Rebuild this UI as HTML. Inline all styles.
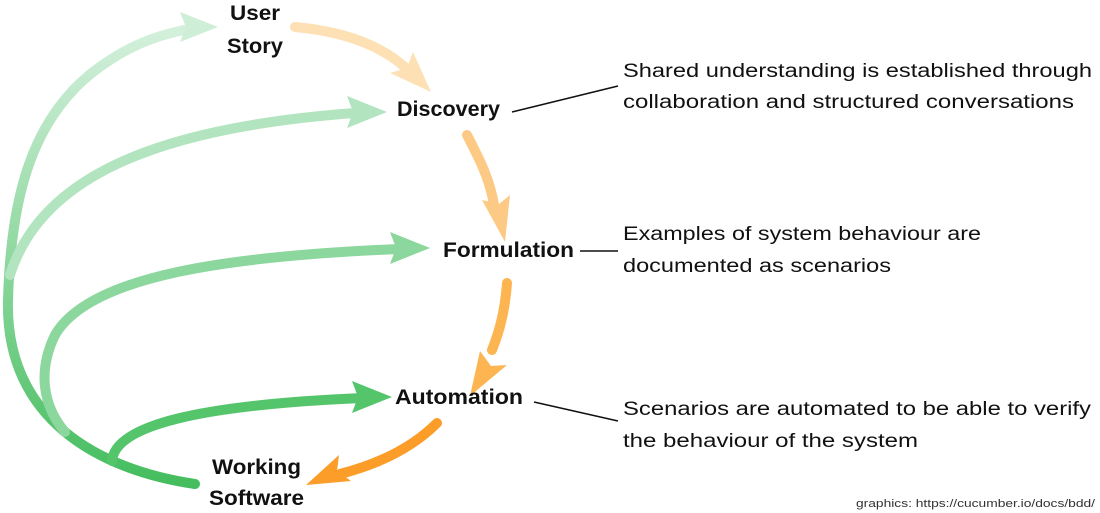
<!DOCTYPE html>
<html><head><meta charset="utf-8"><style>
html,body{margin:0;padding:0;background:#fff;}
svg{display:block;}
text{font-family:"Liberation Sans",sans-serif;fill:#111;}
.b{font-weight:bold;font-size:21px;}
.r{font-size:19px;}
</style></head><body>
<svg width="1100" height="513" viewBox="0 0 1100 513" xmlns="http://www.w3.org/2000/svg">
<defs>
<linearGradient id="g" x1="0" y1="0" x2="0" y2="1">
<stop offset="0" stop-color="#d4f0dc"/>
<stop offset="0.5" stop-color="#8fd8a0"/>
<stop offset="1" stop-color="#44bd5e"/>
</linearGradient>
</defs>
<g fill="none" stroke-linecap="round" stroke-width="10">
<path d="M195,484 C100,470 5,420 8,300 C11,200 30,110 110,60 C140,40 170,32 195,28" stroke="url(#g)"/>
<path d="M10,275 C40,180 150,128 355,113" stroke="#b2e5bf"/>
<path d="M65,432 C42,405 38,370 55,335 C90,275 230,256 400,249" stroke="#8bd79d"/>
<path d="M112,461 C115,425 200,405 362,398" stroke="#55c56c"/>
<path d="M295,27 C350,32 385,48 408,70" stroke="#fde0b4"/>
<path d="M467,135 C480,160 490,180 494,205" stroke="#fdca85"/>
<path d="M507,283 C505,310 500,330 492,350" stroke="#fdb552"/>
<path d="M437,423 C410,450 375,465 340,474" stroke="#fb9d28"/>
</g>
<g stroke="none">
<polygon points="218,27 180,12 186,27 180,42" fill="#cfeed8"/>
<polygon points="387,112 347,96 353,112 347,128" fill="#b2e5bf"/>
<polygon points="430,248 390,232 396,248 390,264" fill="#8bd79d"/>
<polygon points="392,397 352,381 358,397 352,413" fill="#55c56c"/>
<polygon points="431,92 413,52 407,68 390,73" fill="#fde0b4"/>
<polygon points="505,242 510,195 499,204 482,200" fill="#fdca85"/>
<polygon points="470,396 507,365 491,366 480,351" fill="#fdb552"/>
<polygon points="306,485 339,455 337,471 351,481" fill="#fb9d28"/>
</g>
<g stroke="#111" stroke-width="1.6">
<line x1="512" y1="112" x2="618" y2="86"/>
<line x1="580" y1="251" x2="618" y2="251"/>
<line x1="534" y1="402" x2="618" y2="421"/>
</g>
<text class="b" x="230" y="20" textLength="50" lengthAdjust="spacingAndGlyphs">User</text>
<text class="b" x="227" y="53" textLength="56" lengthAdjust="spacingAndGlyphs">Story</text>
<text class="b" x="397" y="116" textLength="103" lengthAdjust="spacingAndGlyphs">Discovery</text>
<text class="b" x="443" y="257" textLength="131" lengthAdjust="spacingAndGlyphs">Formulation</text>
<text class="b" x="395" y="404" textLength="128" lengthAdjust="spacingAndGlyphs">Automation</text>
<text class="b" x="212" y="474" textLength="89" lengthAdjust="spacingAndGlyphs">Working</text>
<text class="b" x="209" y="505" textLength="95" lengthAdjust="spacingAndGlyphs">Software</text>
<text class="r" x="623" y="77" textLength="469" lengthAdjust="spacingAndGlyphs">Shared understanding is established through</text>
<text class="r" x="623" y="108" textLength="451" lengthAdjust="spacingAndGlyphs">collaboration and structured conversations</text>
<text class="r" x="623" y="240" textLength="358" lengthAdjust="spacingAndGlyphs">Examples of system behaviour are</text>
<text class="r" x="623" y="272" textLength="268" lengthAdjust="spacingAndGlyphs">documented as scenarios</text>
<text class="r" x="623" y="415" textLength="468" lengthAdjust="spacingAndGlyphs">Scenarios are automated to be able to verify</text>
<text class="r" x="623" y="447" textLength="295" lengthAdjust="spacingAndGlyphs">the behaviour of the system</text>
<text x="856" y="507" font-size="11" style="fill:#333" textLength="239" lengthAdjust="spacingAndGlyphs">graphics: https://cucumber.io/docs/bdd/</text>
</svg>
</body></html>
